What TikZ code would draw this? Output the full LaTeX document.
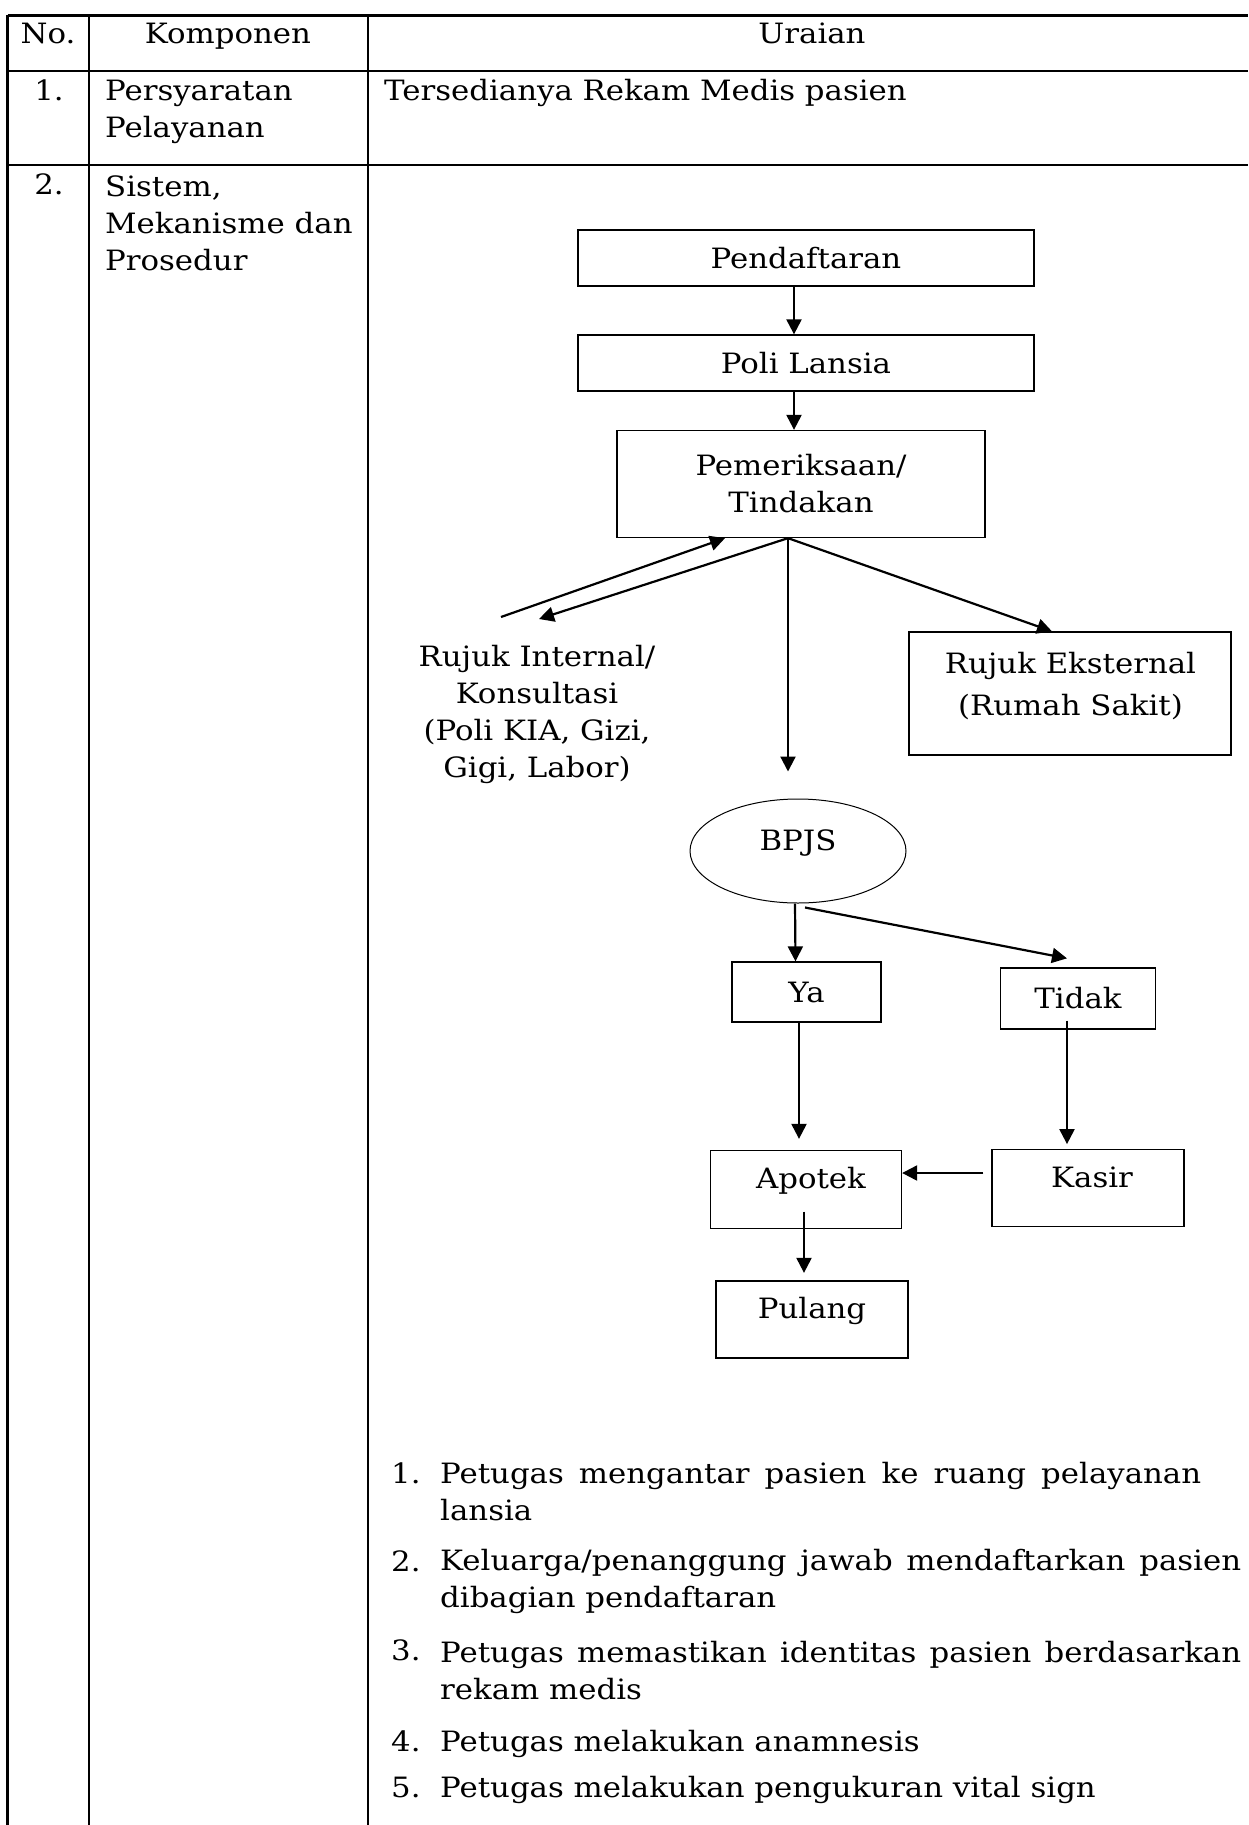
\documentclass[tikz,border=0pt]{standalone}
\usepackage{fontspec}
\setmainfont{DejaVu Serif}[FakeStretch=1.1]
\usetikzlibrary{arrows.meta,shapes.geometric,positioning,calc}

\tikzset{
  box/.style={draw, line width=1.3pt, inner sep=0pt},
  arr/.style={line width=2.2pt, -{Triangle[length=15pt,width=15pt]}},
  grid/.style={line width=2.2pt},
  txt/.style={inner sep=0pt, text height=20pt, text depth=6pt},
  lines/.style={inner sep=0pt, align=center},
  lowtext/.style={text height=20pt, text depth=22pt},
}

\begin{document}
\begin{tikzpicture}[x=1pt, y=-1pt, font=\fontsize{28pt}{37pt}\selectfont]
\useasboundingbox (0,0) rectangle (1248,1825);

% table
\draw[grid] (7.5,15.5) -- (1248,15.5);
\draw[grid] (7.5,71) -- (1248,71);
\draw[grid] (7.5,165) -- (1248,165);
\draw[grid] (7.5,15.5) -- (7.5,1825);
\draw[grid] (89,15.5) -- (89,1825);
\draw[grid] (368,15.5) -- (368,1825);

\node[txt] (hNo) at (48,37) {No.};
\node[txt] (hKomp) at (228,37) {Komponen};
\node[txt] (hUraian) at (812,37) {Uraian};
\node[txt] (no1) at (49,94) {1.};
\node[lines, align=left, anchor=west] (komp1) at (105,111.5) {Persyaratan\\Pelayanan};
\node[txt, anchor=west] (uraian1) at (384,94) {Tersedianya Rekam Medis pasien};
\node[txt] (no2) at (49,187) {2.};
\node[lines, align=left, anchor=west] (komp2) at (105,223.5) {Sistem,\\Mekanisme dan\\Prosedur};

% flowchart
\node[box, minimum width=456pt, minimum height=56pt] (daftar) at (806,258) {Pendaftaran};
\node[box, minimum width=456pt, minimum height=56pt] (poli) at (806,363) {Poli Lansia};
\node[box, minimum width=368pt, minimum height=107pt, align=center] (periksa) at (801,484) {Pemeriksaan/\\Tindakan};
\coordinate (split) at ([xshift=-13pt]periksa.south);
\coordinate (intOut) at (501,617);
\coordinate (intIn) at (539,619);
\node[lines] (internal) at (537,714) {Rujuk Internal/\\Konsultasi\\(Poli KIA, Gizi,\\Gigi, Labor)};
\node[box, minimum width=322pt, minimum height=123pt] (ekst) at (1070,693.5) {};
\node[lines] (ekstText) at (1070.5,686) {Rujuk Eksternal\\[5pt](Rumah Sakit)};
\node[draw, ellipse, line width=1pt, minimum width=216pt, minimum height=104pt, inner sep=0pt, lowtext] (bpjs) at (798,851) {BPJS};
\node[box, minimum width=149pt, minimum height=60pt] (ya) at (806.5,992) {Ya};
\node[box, minimum width=155pt, minimum height=61pt] (tidak) at (1078,998.5) {Tidak};
\node[box, minimum width=191pt, minimum height=78pt, lowtext] (apotek) at (806,1189.5) {\hspace*{10pt}Apotek};
\node[box, minimum width=192pt, minimum height=77.5pt, lowtext] (kasir) at (1088,1188) {\hspace*{8pt}Kasir};
\node[box, minimum width=192pt, minimum height=77pt, lowtext] (pulang) at (812,1319.5) {Pulang};

\draw[arr] ([xshift=-12pt]daftar.south) -- ([xshift=-12pt]poli.north);
\draw[arr] ([xshift=-12pt]poli.south) -- ([xshift=-7pt]periksa.north);
\draw[arr] (intOut) -- ([xshift=-76pt]periksa.south);
\draw[arr] (split) -- (intIn);
\draw[arr] (split) -- ([xshift=-10pt,yshift=27pt]bpjs.north);
\draw[arr] (split) -- ([xshift=-18pt]ekst.north);
\draw[arr] ([xshift=-3pt]bpjs.south) -- ([xshift=-11pt]ya.north);
\draw[arr] ([xshift=7pt,yshift=-4pt]bpjs.south) -- ([xshift=-11pt,yshift=9pt]tidak.north);
\draw[arr] ([xshift=-7.5pt]ya.south) -- ([xshift=-7pt,yshift=11pt]apotek.north);
\draw[arr] ([xshift=-11pt,yshift=9pt]tidak.south) -- ([xshift=-21pt,yshift=4.5pt]kasir.north);
\draw[arr] ([xshift=-8pt,yshift=15pt]kasir.west) -- ([yshift=16.5pt]apotek.east);
\draw[arr] ([xshift=-2pt,yshift=17.5pt]apotek.south) -- ([xshift=-8pt,yshift=7.5pt]pulang.north);

% langkah
\node[txt, anchor=west] (n1) at (391,1476) {1.};
\node[lines, align=left, anchor=west] (t1) at (440,1492) {\makebox[761pt][s]{Petugas mengantar pasien ke ruang pelayanan}\\lansia};
\node[txt, anchor=west] (n2) at (391,1564) {2.};
\node[lines, align=left, anchor=west] (t2) at (440,1581.5) {\makebox[801pt][s]{Keluarga/penanggung jawab mendaftarkan pasien}\\dibagian pendaftaran};
\node[txt, anchor=west] (n3) at (391,1653) {3.};
\node[lines, align=left, anchor=west] (t3) at (440,1670.5) {\makebox[801pt][s]{Petugas memastikan identitas pasien berdasarkan}\\rekam medis};
\node[txt, anchor=west] (n4) at (391,1744) {4.};
\node[txt, anchor=west] (t4) at (440,1744) {Petugas melakukan anamnesis};
\node[txt, anchor=west] (n5) at (391,1790) {5.};
\node[txt, anchor=west] (t5) at (440,1790) {Petugas melakukan pengukuran vital sign};
\end{tikzpicture}
\end{document}
